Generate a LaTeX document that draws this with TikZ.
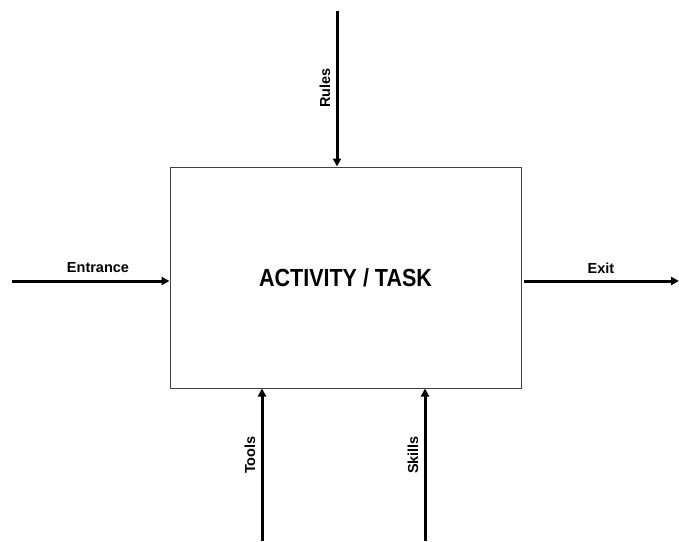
\documentclass[tikz,border=0pt]{standalone}
\usepackage{fontspec}
\usepackage{graphicx}
\setmainfont{Liberation Sans}
\usetikzlibrary{arrows.meta,positioning}
\tikzset{flow/.style={-{Triangle[length=8pt,width=8pt]},line width=3pt},
         lbl/.style={font=\bfseries\fontsize{14.5}{16}\selectfont,inner sep=0pt}}

\begin{document}
\begin{tikzpicture}[x=1pt, y=-1pt]
\useasboundingbox (0,0) rectangle (679,541);
    \node[draw=black!75, fill=white, line width=1pt, minimum width=351pt, minimum height=221pt,
          inner sep=0pt, font=\bfseries\fontsize{21.5}{26}\selectfont] (task) at (345.5,277.5) {\raisebox{-2pt}{\scalebox{1}[1.15]{ACTIVITY / TASK}}};
    \coordinate (rules) at (337,11);
    \coordinate (entrance) at (12,281);
    \coordinate (exitstart) at (524,281);
    \coordinate (exitend) at (679,281);
    \coordinate (tools) at (262,541);
    \coordinate (skills) at (425,541);
    \draw[flow] (rules) -- (rules |- task.north);
    \draw[flow] (entrance) -- (entrance -| task.west);
    \draw[flow] (exitstart) -- (exitend);
    \draw[flow] (tools) -- (tools |- task.south);
    \draw[flow] (skills) -- (skills |- task.south);
    \node[lbl] (rulestext) at (325,88) [rotate=90] {Rules};
    \node[lbl] (entrancetext) at (98,268) {Entrance};
    \node[lbl] (exittext) at (601,268) {Exit};
    \node[lbl] (toolstext) at (250,455) [rotate=90] {Tools};
    \node[lbl] (skillstext) at (413,455) [rotate=90] {Skills};
\end{tikzpicture}
\end{document}
